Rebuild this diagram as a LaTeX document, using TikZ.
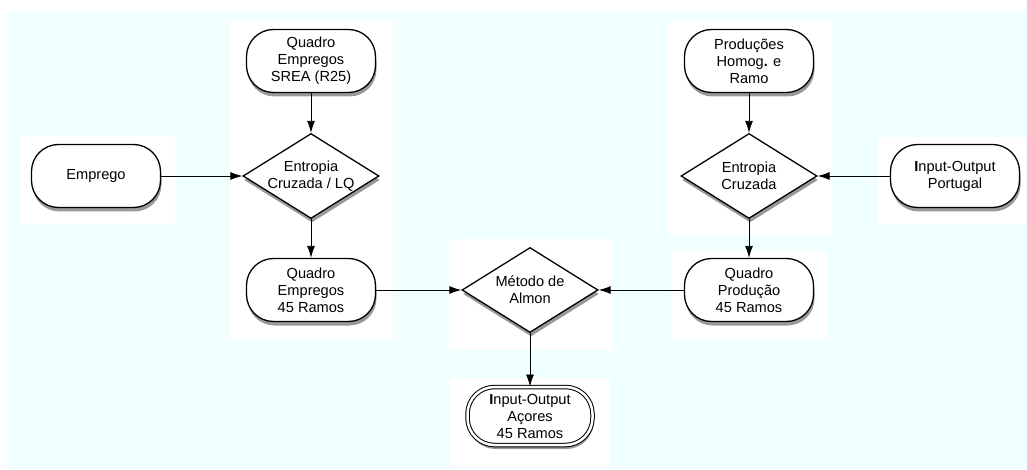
\documentclass[tikz,border=0pt]{standalone}
\usepackage{fontspec}
\setmainfont{Liberation Sans}
\usepackage{tikz}
\usetikzlibrary{shapes.geometric, arrows.meta, shadows}
\definecolor{paper}{RGB}{240,255,255}
\tikzstyle{term} =
[rectangle, rounded corners = 27pt, minimum width = 129pt, minimum height = 63pt,
text centered, align = center, draw=black, line width = 1.3pt, fill=white,
drop shadow = {shadow xshift = 1pt, shadow yshift = -4pt, fill=black, opacity = 0.4}]
\tikzstyle{decision} =
[diamond, shape aspect = 1.6, minimum width = 136pt, minimum height = 85pt,
inner sep = -1.5pt, text centered, align = center, draw=black, line width = 1.3pt,
fill=white, drop shadow = {shadow xshift = 1pt, shadow yshift = -4pt, fill=black, opacity = 0.4}]
\tikzstyle{result} =
[term, double = white, double distance = 2.5pt, line width = 1pt,
minimum width = 125pt, minimum height = 58pt]
\tikzstyle{blank} = [fill=white]
\tikzstyle{line} = [draw, line width = 0.9pt, -{Latex[length=12pt, width=8pt]}]

\begin{document}
\begin{tikzpicture}[x = 1pt, y = -1pt, node distance = 115pt,
  font = \fontsize{14.6}{17}\selectfont]
  % background
  \useasboundingbox (0,0) rectangle (1027,470);
  \fill [paper] (8,11) rectangle (1027,470);
  \fill [blank] (230,21) rectangle (393,339);
  \fill [blank] (19,136) rectangle (175,224);
  \fill [blank] (449,239) rectangle (612,350);
  \fill [blank] (450,378) rectangle (610,468);
  \fill [blank] (668,21) rectangle (832,236);
  \fill [blank] (671,251) rectangle (828,339);
  \fill [blank] (878,137) rectangle (1027,224);
  %
  % left branch nodes
  \node [term] (srea) at (311,61) {Quadro\\Empregos\\SREA (R25)};
  \node [decision, below of=srea] (entlq) {Entropia\\Cruzada / LQ};
  \node [term, left of=entlq, node distance = 215pt] (emprego) {Emprego};
  \node [term, below of=entlq, node distance = 114pt] (qemp)
   {Quadro\\Empregos\\45 Ramos};
  % centre nodes
  \node [decision, right of=qemp, node distance = 219pt] (almon)
   {Método de\\Almon};
  \node [result, below of=almon, node distance = 126pt] (acores)
   {{\bfseries I}nput-Output\\Açores\\45 Ramos};
  % right branch nodes
  \node [term, right of=almon, node distance = 219pt] (qprod)
   {Quadro\\Produção\\45 Ramos};
  \node [decision, above of=qprod, node distance = 114pt] (entcr)
   {Entropia\\Cruzada};
  \node [term, above of=entcr] (prodh) {Produções\\Homog{\bfseries .} e\\Ramo};
  \node [term, right of=entcr, node distance = 206pt] (iopt)
   {{\bfseries I}nput-Output\\Portugal};
  %
  % edges
  \path [line] (srea) -- (entlq);
  \path [line] (emprego) -- (entlq);
  \path [line] (entlq) -- (qemp);
  \path [line] (qemp) -- (almon);
  \path [line] (prodh) -- (entcr);
  \path [line] (iopt) -- (entcr);
  \path [line] (entcr) -- (qprod);
  \path [line] (qprod) -- (almon);
  \path [line] (almon) -- (acores);
\end{tikzpicture}
\end{document}
